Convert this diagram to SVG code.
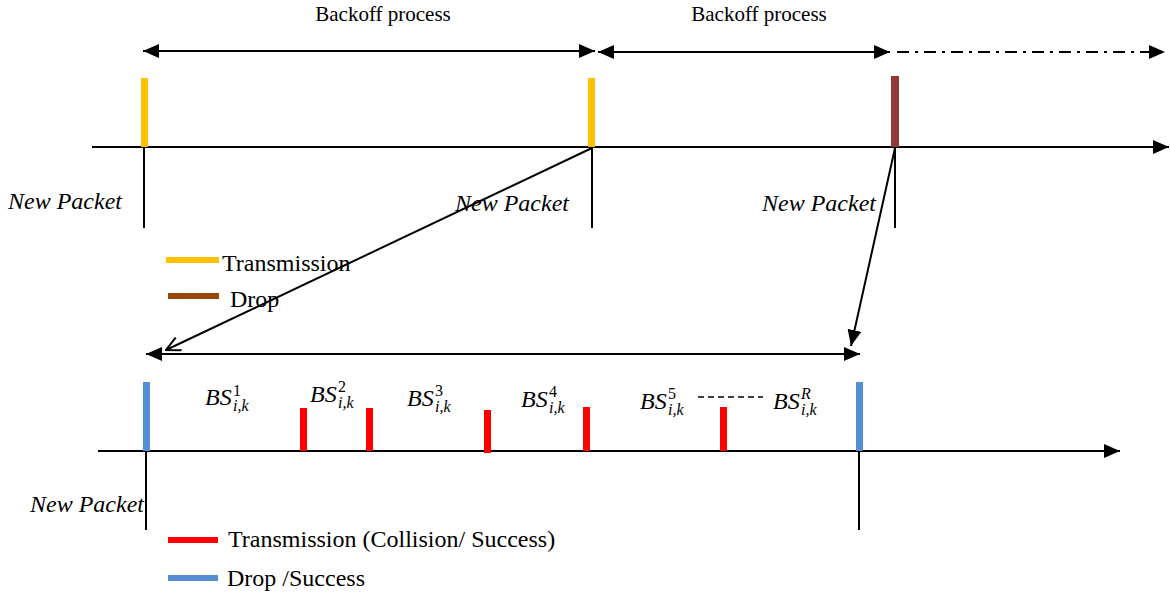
<svg xmlns="http://www.w3.org/2000/svg" width="1170" height="596" viewBox="0 0 1170 596">
<style>
.ln{stroke:#000;stroke-width:2;fill:none}
text{font-family:'Liberation Serif','Times New Roman',Times,'DejaVu Serif',serif;fill:#000}
.lbl{font-size:21px}
.leg{font-size:24px}
.np{font-size:24px;font-style:italic}
.bs{font-size:24px;font-style:italic}
.sm{font-size:16px;font-style:italic}
.sp{font-size:16px}
</style>
<defs>
<marker id="ah" viewBox="0 0 16 14" refX="16" refY="7" markerWidth="16" markerHeight="14" markerUnits="userSpaceOnUse" orient="auto-start-reverse">
<path d="M0,0 L16,7 L0,14 Z" fill="#000"/>
</marker>
<marker id="oh" viewBox="0 0 16 16" refX="15" refY="8" markerWidth="16" markerHeight="16" markerUnits="userSpaceOnUse" orient="auto">
<path d="M1,1 L15,8 L1,15" fill="none" stroke="#000" stroke-width="2"/>
</marker>
</defs>

<g id="top-axis">
<line class="ln" x1="92" y1="147" x2="1169" y2="147" marker-end="url(#ah)"/>
<line class="ln" x1="144" y1="147" x2="144" y2="228"/>
<line class="ln" x1="592" y1="147" x2="592" y2="228"/>
<line class="ln" x1="895" y1="147" x2="895" y2="228"/>
</g>

<g id="top-bars">
<rect x="141" y="78" width="7" height="69" fill="#FFC000"/>
<rect x="588" y="78" width="7" height="69" fill="#FFC000"/>
<rect x="891" y="76" width="8" height="71" fill="#943634"/>
</g>

<g id="backoff-labels">
<text class="lbl" x="383" y="21" text-anchor="middle" font-family="Liberation Serif">Backoff process</text>
<text class="lbl" x="759" y="21" text-anchor="middle" font-family="Liberation Serif">Backoff process</text>
</g>

<g id="new-packet-labels">
<text class="np" x="8" y="209">New Packet</text>
<text class="np" x="455" y="211">New Packet</text>
<text class="np" x="762" y="211">New Packet</text>
<text class="np" x="30" y="512">New Packet</text>
</g>

<g id="legend-top">
<line x1="166" y1="260" x2="219" y2="260" stroke="#FFC000" stroke-width="6"/>
<text class="leg" x="222" y="271">Transmission</text>
<line x1="168" y1="296" x2="219" y2="296" stroke="#984807" stroke-width="6"/>
<text class="leg" x="230" y="307">Drop</text>
</g>

<g id="connectors">
<line class="ln" x1="143" y1="51" x2="595" y2="51" marker-start="url(#ah)" marker-end="url(#ah)"/>
<line class="ln" x1="598" y1="52" x2="890" y2="52" marker-start="url(#ah)" marker-end="url(#ah)"/>
<line class="ln" x1="897" y1="52" x2="1165" y2="52" stroke-dasharray="12,6,3,6" marker-end="url(#ah)"/>
<line class="ln" x1="592" y1="148" x2="166" y2="350" marker-end="url(#oh)"/>
<line class="ln" x1="895" y1="148" x2="851" y2="346" marker-end="url(#ah)"/>
<line class="ln" x1="146" y1="354" x2="860" y2="354" marker-start="url(#ah)" marker-end="url(#ah)"/>
</g>

<g id="bottom-axis">
<line class="ln" x1="98" y1="451" x2="1120" y2="451" marker-end="url(#ah)"/>
<line class="ln" x1="146" y1="451" x2="146" y2="530"/>
<line class="ln" x1="859" y1="451" x2="859" y2="530"/>
</g>

<g id="bottom-bars">
<rect x="143" y="382" width="7" height="69" fill="#558ED5"/>
<rect x="856" y="382" width="7" height="69" fill="#558ED5"/>
<rect x="300" y="408" width="7" height="43" fill="#FF0000"/>
<rect x="366" y="408" width="7" height="43" fill="#FF0000"/>
<rect x="484" y="410" width="7" height="43" fill="#FF0000"/>
<rect x="583" y="407" width="7" height="44" fill="#FF0000"/>
<rect x="720" y="407" width="7" height="44" fill="#FF0000"/>
</g>

<g id="bs-labels">
<text class="bs" x="205" y="405">BS</text>
<text class="sp" x="233" y="396">1</text>
<text class="sm" x="233" y="411">i,k</text>

<text class="bs" x="310" y="402">BS</text>
<text class="sp" x="338" y="392">2</text>
<text class="sm" x="338" y="408">i,k</text>

<text class="bs" x="407" y="406">BS</text>
<text class="sp" x="435" y="396">3</text>
<text class="sm" x="435" y="412">i,k</text>

<text class="bs" x="521" y="407">BS</text>
<text class="sp" x="549" y="397">4</text>
<text class="sm" x="549" y="413">i,k</text>

<text class="bs" x="640" y="409">BS</text>
<text class="sp" x="668" y="399">5</text>
<text class="sm" x="668" y="415">i,k</text>

<line x1="698" y1="397" x2="763" y2="397" stroke="#000" stroke-width="1.5" stroke-dasharray="6,4"/>

<text class="bs" x="773" y="409">BS</text>
<text class="sm" x="801" y="399">R</text>
<text class="sm" x="801" y="415">i,k</text>
</g>

<g id="legend-bottom">
<line x1="168" y1="540" x2="218" y2="540" stroke="#FF0000" stroke-width="6"/>
<text class="leg" x="228" y="547">Transmission (Collision/ Success)</text>
<line x1="168" y1="578" x2="218" y2="578" stroke="#558ED5" stroke-width="6"/>
<text class="leg" x="227" y="586">Drop /Success</text>
</g>
</svg>
